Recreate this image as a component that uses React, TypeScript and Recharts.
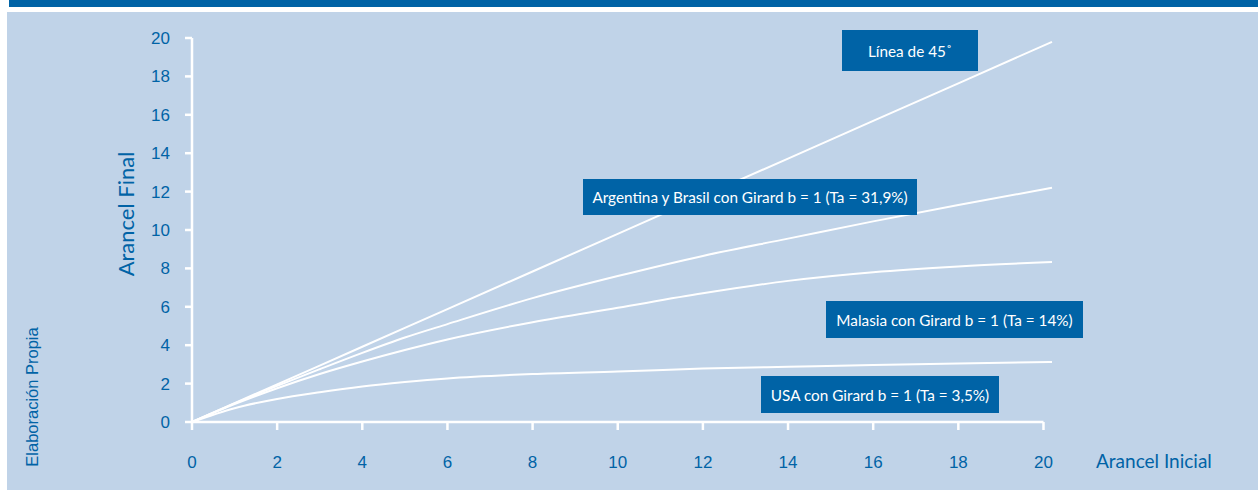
import React from 'react';
import { LineChart, Line, XAxis, YAxis, ReferenceLine } from 'recharts';

// Arancel inicial (eje x) y arancel final de cada curva
const arancelInicial = [0, 1, 2, 3, 4, 5, 6, 8, 10, 12, 14, 16, 18, 20.2];
const linea45 = [0, 0.98, 1.96, 2.94, 3.92, 4.9, 5.88, 7.84, 9.8, 11.76, 13.72, 15.68, 17.64, 19.8];
const argentinaBrasil = [0, 0.97, 1.88, 2.75, 3.6, 4.4, 5.1, 6.45, 7.6, 8.65, 9.55, 10.45, 11.3, 12.2];
const malasia = [0, 0.93, 1.76, 2.5, 3.15, 3.75, 4.3, 5.2, 5.95, 6.7, 7.35, 7.8, 8.1, 8.33];
const usa = [0, 0.72, 1.2, 1.55, 1.85, 2.08, 2.27, 2.5, 2.63, 2.78, 2.88, 2.97, 3.05, 3.13];

const xTicks = [0, 2, 4, 6, 8, 10, 12, 14, 16, 18, 20];
const yTicks = [0, 2, 4, 6, 8, 10, 12, 14, 16, 18, 20];

const BLUE = '#0063a6';
const BG = '#c0d3e8';

const data = arancelInicial.map((x, i) => ({
    x,
    linea45: linea45[i],
    argentina: argentinaBrasil[i],
    malasia: malasia[i],
    usa: usa[i],
}));

const tickStyle = { fontSize: 17, fill: BLUE, fontFamily: '"Liberation Sans", Arial, sans-serif' };

const Box = ({ left, top, width, height, children }: any) => (
    <div
        style={{
            position: 'absolute',
            left,
            top,
            width,
            height,
            background: BLUE,
            color: '#fff',
            fontFamily: 'Lato, sans-serif',
            fontSize: 15.3,
            display: 'flex',
            alignItems: 'center',
            justifyContent: 'center',
            whiteSpace: 'nowrap',
        }}
    >
        {children}
    </div>
);

export default function App() {
    return (
        <div style={{ position: 'absolute', left: 0, top: 0, width: 1258, height: 490, background: '#fff', overflow: 'hidden' }}>
            <div style={{ position: 'absolute', left: 9, top: 0, width: 1249, height: 7, background: BLUE }} />
            <div style={{ position: 'absolute', left: 7, top: 12, width: 1251, height: 478, background: BG }} />

            <div style={{ position: 'absolute', left: 0, top: 0 }}>
                <LineChart width={1258} height={490} data={data} margin={{ top: 38, right: 206, bottom: 28, left: 132 }}>
                    <XAxis
                        type="number"
                        dataKey="x"
                        domain={[0, 20.2]}
                        ticks={xTicks}
                        height={40}
                        axisLine={false}
                        tickLine={{ stroke: '#fff', strokeWidth: 2.5 }}
                        tickSize={8}
                        tickMargin={26}
                        tick={tickStyle}
                        interval={0}
                    />
                    <YAxis
                        type="number"
                        domain={[0, 20]}
                        ticks={yTicks}
                        width={60}
                        axisLine={{ stroke: '#fff', strokeWidth: 2.5 }}
                        tickLine={{ stroke: '#fff', strokeWidth: 2.5 }}
                        tickSize={7}
                        tickMargin={15}
                        tick={tickStyle}
                        interval={0}
                    />
                    <ReferenceLine segment={[{ x: 0, y: 0 }, { x: 20, y: 0 }]} stroke="#fff" strokeWidth={2.5} />
                    <Line type="linear" dataKey="linea45" stroke="#fff" strokeWidth={2} dot={false} isAnimationActive={false} />
                    <Line type="monotone" dataKey="argentina" stroke="#fff" strokeWidth={2} dot={false} isAnimationActive={false} />
                    <Line type="monotone" dataKey="malasia" stroke="#fff" strokeWidth={2} dot={false} isAnimationActive={false} />
                    <Line type="monotone" dataKey="usa" stroke="#fff" strokeWidth={2} dot={false} isAnimationActive={false} />
                </LineChart>
            </div>

            <Box left={842} top={30} width={136} height={41}>Línea de 45˚</Box>
            <Box left={583} top={179} width={334} height={36}>Argentina y Brasil con Girard b = 1 (Ta = 31,9%)</Box>
            <Box left={826} top={301} width={257} height={37}>Malasia con Girard b = 1 (Ta = 14%)</Box>
            <Box left={761} top={376} width={238} height={37}>USA con Girard b = 1 (Ta = 3,5%)</Box>

            <div
                style={{
                    position: 'absolute',
                    left: 1096,
                    top: 449,
                    fontFamily: 'Lato, sans-serif',
                    fontSize: 19,
                    color: BLUE,
                    whiteSpace: 'nowrap',
                }}
            >
                Arancel Inicial
            </div>
            <div
                style={{
                    position: 'absolute',
                    left: 125,
                    top: 214,
                    transform: 'translate(-50%, -50%) rotate(-90deg)',
                    fontFamily: 'Lato, sans-serif',
                    fontSize: 22,
                    color: BLUE,
                    whiteSpace: 'nowrap',
                }}
            >
                Arancel Final
            </div>
            <div
                style={{
                    position: 'absolute',
                    left: 32,
                    top: 397,
                    transform: 'translate(-50%, -50%) rotate(-90deg)',
                    fontFamily: '"Liberation Sans", Arial, sans-serif',
                    fontSize: 16.5,
                    color: BLUE,
                    whiteSpace: 'nowrap',
                }}
            >
                Elaboración Propia
            </div>
        </div>
    );
}
